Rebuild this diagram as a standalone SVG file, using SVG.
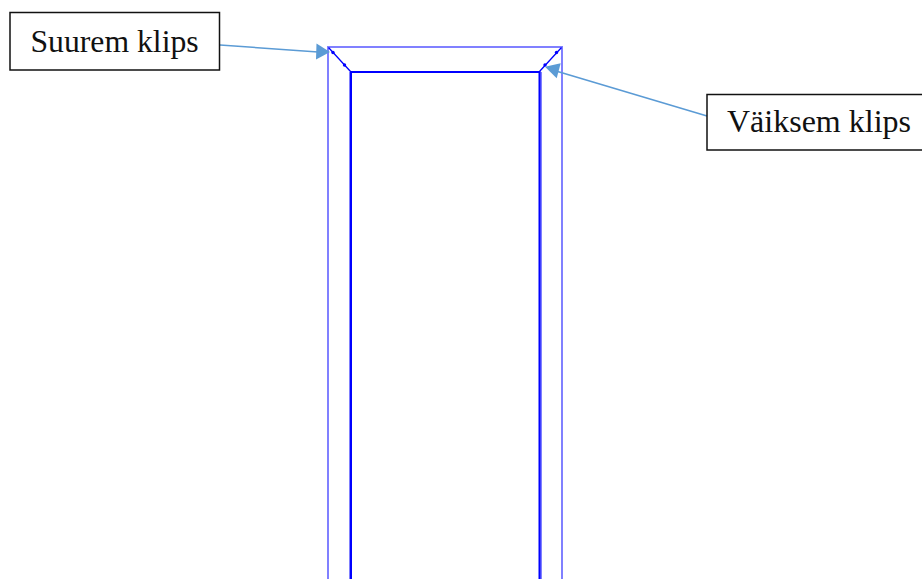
<svg xmlns="http://www.w3.org/2000/svg" width="922" height="579" viewBox="0 0 922 579">
<style>
.box{fill:#fff;stroke:#111;stroke-width:1.5}
.t{font-family:"Liberation Serif","Times New Roman",serif;font-size:31.700px;fill:#111}
.thin{fill:none;stroke:#8080ff;stroke-width:2}
.thick{fill:none;stroke:#0000ff;stroke-width:2}
.diag{fill:none;stroke:#0000ff;stroke-width:1.3}
.dot{fill:#0000ff}
.arrow{stroke:#5b9bd5;stroke-width:1.6;fill:none}
.head{fill:#5b9bd5}
</style>
<rect width="922" height="579" fill="#fff"/>
<g id="frame">
<path class="thin" d="M328 579V47H562V579"/>
<path class="thin" d="M350 579V72M541 579V72"/>
<path class="thick" d="M351 579V72H539.500V579"/>
<path class="diag" d="M328.500 47.500L350.500 71.500M561.500 47.500L539.500 71.500"/>
<circle class="dot" cx="333" cy="52.500" r="1.700"/>
<circle class="dot" cx="344.500" cy="65" r="1.700"/>
<circle class="dot" cx="556.500" cy="52.500" r="1.700"/>
<circle class="dot" cx="545" cy="65" r="1.700"/>
</g>
<g id="connectors">
<line class="arrow" x1="220" y1="45" x2="318" y2="52"/>
<polygon class="head" points="330,52 316.500,43.500 316,59.500"/>
<line class="arrow" x1="707" y1="116" x2="556" y2="71"/>
<polygon class="head" points="545,66.700 560.700,63.300 556.700,78.300"/>
</g>
<g id="suurem-klips">
<rect class="box" x="10" y="12.500" width="209.500" height="57.500"/>
<text class="t" x="30.500" y="52">Suurem klips</text>
</g>
<g id="vaiksem-klips">
<rect class="box" x="707" y="94.500" width="225" height="55.500"/>
<text class="t" x="727" y="132" style="font-size:32px">Väiksem klips</text>
</g>
</svg>
